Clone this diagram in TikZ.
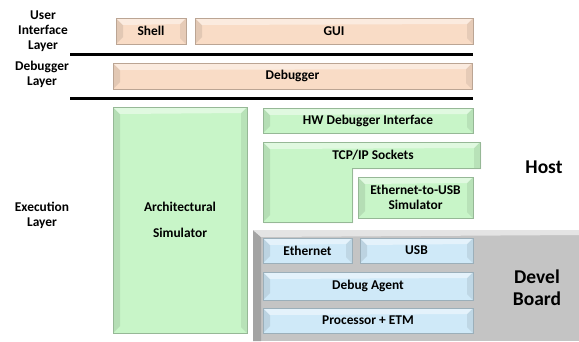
\documentclass[tikz,border=0pt]{standalone}
\usepackage{fontspec}
\setmainfont{Carlito}
\usetikzlibrary{shadows}
\definecolor{peach}{RGB}{249,220,198}
\definecolor{mint}{RGB}{200,245,200}
\definecolor{sky}{RGB}{207,233,248}
\definecolor{boardgray}{RGB}{196,196,196}
\tikzset{
  slab/.style={fill=#1, draw=#1!75!black, line width=.3pt, inner sep=0pt,
    drop shadow={shadow xshift=1pt,shadow yshift=-1.2pt,opacity=.3},
    path picture={
      \coordinate (nw) at (path picture bounding box.north west);
      \coordinate (se) at (path picture bounding box.south east);
      \coordinate (ne) at (path picture bounding box.north east);
      \coordinate (sw) at (path picture bounding box.south west);
      \fill[#1!70!black,opacity=.3] (nw) -- ([shift={(7pt,-7pt)}]nw)
        -- ([shift={(7pt,7pt)}]sw) -- (sw) -- cycle;
      \fill[#1!70!black,opacity=.25] (ne) -- ([shift={(-6pt,-6pt)}]ne)
        -- ([shift={(-6pt,6pt)}]se) -- (se) -- cycle;
      \fill[white,opacity=.45] (nw) -- (ne) -- ([shift={(-6pt,-6pt)}]ne)
        -- ([shift={(7pt,-7pt)}]nw) -- cycle;}},
  lbl/.style={font=\fontsize{13.4}{15}\selectfont\bfseries, align=center},
  big/.style={font=\fontsize{19.5}{22}\selectfont\bfseries, align=center},
  rule/.style={line width=3pt}
}
\begin{document}
\begin{tikzpicture}[x=1pt,y=-1pt]
    \useasboundingbox (0,0) rectangle (579,341);
    % devel board background
    \fill[boardgray] (253,230) rectangle (579,341);
    \fill[black!36] (253,230) -- (261,237) -- (261,341) -- (253,341) -- cycle;
    \fill[white!55!boardgray] (253,230) -- (579,230) -- (579,235) -- (261,237) -- cycle;
    % layer rules
    \coordinate (r1a) at (70,54);  \coordinate (r1b) at (473,54);
    \coordinate (r2a) at (70,98);  \coordinate (r2b) at (473,98);
    \draw[rule] (r1a) -- (r1b);
    \draw[rule] (r2a) -- (r2b);
    % layer names
    \node[lbl] (uilayer) at (43,31) {User\\Interface\\Layer};
    \node[lbl] (dblayer) at (42,74) {Debugger\\Layer};
    \node[lbl] (exlayer) at (42,215) {Execution\\Layer};
    % user interface + debugger
    \node[slab=peach, minimum width=70, minimum height=26, lbl] (shell) at (151,31) {Shell};
    \node[slab=peach, minimum width=278, minimum height=26, lbl] (gui) at (334,31) {GUI};
    \node[slab=peach, minimum width=359, minimum height=26, lbl] (dbg) at (292.5,76) {Debugger};
    % host side
    \node[slab=mint, minimum width=134, minimum height=226, lbl] (arch) at (180,220) {Architectural\\[11pt]Simulator};
    \node[slab=mint, minimum width=210, minimum height=25, lbl] (hwif) at (368,120.5) {HW Debugger Interface};
    \path[slab=mint] (263,142) -- (480,142) -- (480,168) -- (352,168)
        -- (352,222) -- (263,222) -- cycle;
    \node[lbl] (tcp) at (373,155) {TCP/IP Sockets};
    \node[slab=mint, minimum width=115, minimum height=41, lbl] (e2usb) at (415.5,197.5) {Ethernet-to-USB\\Simulator};
    % board side
    \node[slab=sky, minimum width=89, minimum height=25, lbl] (eth) at (307.5,250.5) {Ethernet};
    \node[slab=sky, minimum width=113, minimum height=25, lbl] (usb) at (416.5,250.5) {USB};
    \node[slab=sky, minimum width=210, minimum height=28, lbl] (agent) at (368,286) {Debug Agent};
    \node[slab=sky, minimum width=210, minimum height=25, lbl] (proc) at (368,320.5) {Processor + ETM};
    % side names
    \node[big] (host) at (544,167) {Host};
    \node[big] (devel) at (537,288) {Devel\\Board};
\end{tikzpicture}
\end{document}
